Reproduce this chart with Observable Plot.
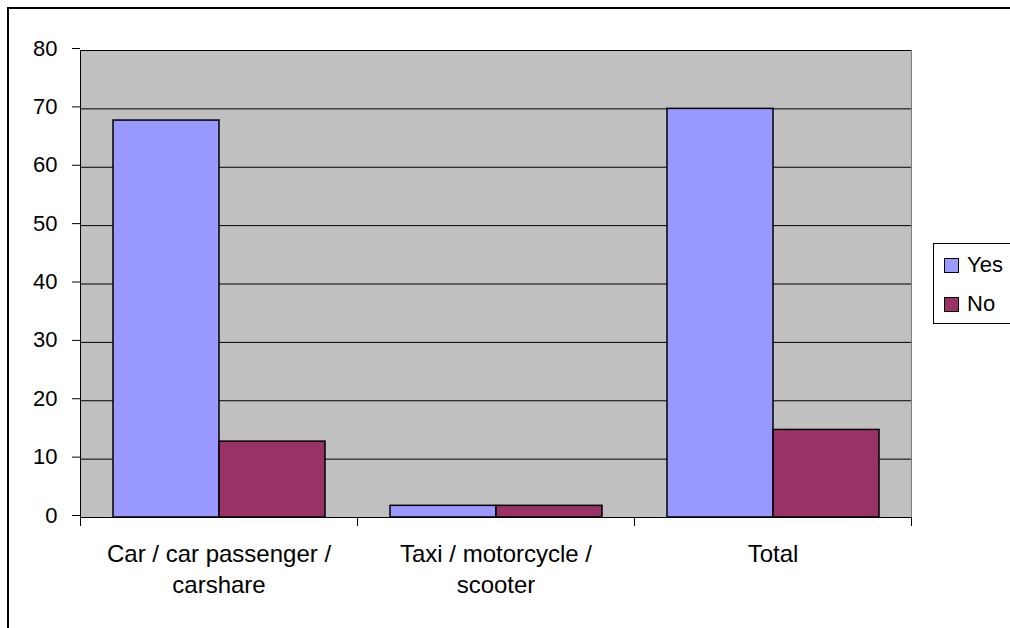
<!DOCTYPE html>
<html>
<head>
<meta charset="utf-8">
<script src="https://cdn.jsdelivr.net/npm/d3@7"></script>
<script src="https://cdn.jsdelivr.net/npm/@observablehq/plot@0.6"></script>
<style>
  html, body { margin: 0; padding: 0; background: #fff; overflow: hidden; }
  #wrap { position: relative; width: 1010px; height: 628px; overflow: hidden; font-family: "Liberation Sans", Arial, sans-serif; }
  #outer { position: absolute; left: 7px; top: 7px; width: 1100px; height: 700px; border: 2px solid #000; box-sizing: border-box; }
  #chart { position: absolute; left: 0; top: 0; }
  #legend { position: absolute; left: 933px; top: 243px; width: 100px; height: 81px; border: 1px solid #000; background: #fff; box-sizing: border-box; font-size: 22px; color: #000; }
  .item { position: absolute; left: 10px; display: flex; align-items: center; }
  .sw { width: 13px; height: 13px; border: 1px solid #000; margin-right: 8px; }
</style>
</head>
<body>
<div id="wrap">
  <div id="outer"></div>
  <div id="chart"></div>
  <div id="legend"></div>
</div>
<script>
const categories = ["Car / car passenger / carshare", "Taxi / motorcycle / scooter", "Total"];
const xLabels = ["Car / car passenger /\ncarshare", "Taxi / motorcycle /\nscooter", "Total"];
const series = ["Yes", "No"];
const yesValues = [68, 2, 70];
const noValues = [13, 2, 15];
const colors = ["#9999ff", "#993366"];
const yTicks = [0, 10, 20, 30, 40, 50, 60, 70, 80];

const W = 1010, H = 628, mL = 80, mR = 99, mT = 50, mB = 111;
const innerH = H - mT - mB;

const table = categories.flatMap((c, i) => [
  {category: c, series: series[0], value: yesValues[i]},
  {category: c, series: series[1], value: noValues[i]}
]);

const chart = Plot.plot({
  width: W, height: H,
  marginLeft: mL, marginRight: mR, marginTop: mT, marginBottom: mB,
  style: {fontFamily: "'Liberation Sans', Arial, sans-serif", fontSize: "22px", background: "transparent", overflow: "visible", color: "#000"},
  fx: {domain: categories, padding: 0},
  x: {domain: series, paddingInner: 0, paddingOuter: 0.3, axis: null},
  y: {domain: [0, 80]},
  color: {domain: series, range: colors},
  marks: [
    Plot.frame({facet: "super", fill: "#c0c0c0", stroke: "#808080"}),
    Plot.gridY(yTicks, {stroke: "#000", strokeOpacity: 1}),
    Plot.barY(table, {fx: "category", x: "series", y: "value", fill: "series", stroke: "#000", strokeWidth: 1.5}),
    Plot.ruleY([0], {stroke: "#000", strokeWidth: 1.2}),
    Plot.frame({facet: "super", anchor: "left", stroke: "#000"}),
    Plot.frame({anchor: "left", insetTop: innerH, insetBottom: -8, stroke: "#000"}),
    Plot.frame({anchor: "right", insetTop: innerH, insetBottom: -8, stroke: "#000"}),
    Plot.axisY(yTicks, {tickSize: 8, tickPadding: 15, fontSize: 22, dy: -2, label: null, tickFormat: d => String(d)}),
    Plot.axisFx({anchor: "bottom", tickSize: 0, tickPadding: 22, fontSize: 24, lineHeight: 1.3, label: null,
      tickFormat: d => xLabels[categories.indexOf(d)]})
  ]
});
document.getElementById("chart").appendChild(chart);

const legend = document.getElementById("legend");
series.forEach((s, i) => {
  const item = document.createElement("div");
  item.className = "item";
  item.style.top = (i === 0 ? 8 : 47) + "px";
  const sw = document.createElement("div");
  sw.className = "sw";
  sw.style.background = colors[i];
  const t = document.createElement("span");
  t.textContent = s;
  item.appendChild(sw);
  item.appendChild(t);
  legend.appendChild(item);
});
</script>
</body>
</html>
